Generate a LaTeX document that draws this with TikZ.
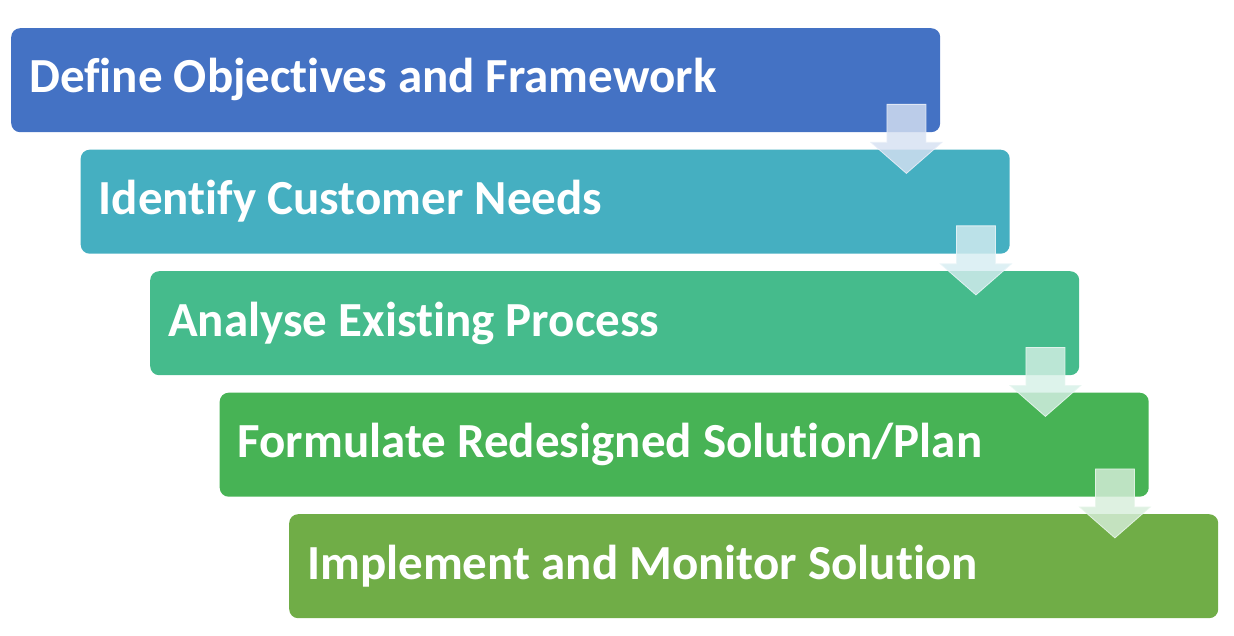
\documentclass[tikz,border=0pt]{standalone}
\usepackage{fontspec}
\setmainfont{Carlito}[Ligatures={NoCommon}]
\usetikzlibrary{calc}
\definecolor{cA}{HTML}{4472C4}
\definecolor{cB}{HTML}{45AFC1}
\definecolor{cC}{HTML}{45BB8C}
\definecolor{cD}{HTML}{47B355}
\definecolor{cE}{HTML}{70AD47}
\tikzset{
  stepbox/.style={rectangle, rounded corners=9pt, fill=#1, draw=none,
    minimum width=929pt, minimum height=104pt, inner sep=0pt, anchor=north west},
  steptext/.style={anchor=base west, inner sep=0pt, text=white,
    font=\fontsize{49}{59}\selectfont\bfseries},
  downarrow/.style={fill=#1!22!white, fill opacity=0.82,
    draw=#1!12!white, draw opacity=0.9, line width=0.8pt, line join=miter}
}
% block arrow hanging from the lower right corner of a step box
\newcommand\flowarrow[2]{%
  \draw[downarrow=#2] ($(#1.south east)+(-53.5,-28)$) -- ++(39,0) -- ++(0,38)
    -- ++(16,0) -- ++(-35.5,31) -- ++(-35.5,-31) -- ++(16,0) -- cycle;}
\begin{document}
\begin{tikzpicture}[x=1pt,y=-1pt]
\useasboundingbox (0,0) rectangle (1234,636);
\node[stepbox=cA] (b1) at (11,28) {};
\node[stepbox=cB] (b2) at (80.5,149.5) {};
\node[stepbox=cC] (b3) at (150,271) {};
\node[stepbox=cD] (b4) at (219.5,392.5) {};
\node[stepbox=cE] (b5) at (289,514) {};
\node[steptext] (t1) at ($(b1.north west)+(18,65)$) {Define Objectives and Framework};
\node[steptext] (t2) at ($(b2.north west)+(18,65)$) {Identify Customer Needs};
\node[steptext] (t3) at ($(b3.north west)+(18,65)$) {Analyse Existing Process};
\node[steptext] (t4) at ($(b4.north west)+(18,65)$) {Formulate Redesigned Solution/Plan};
\node[steptext] (t5) at ($(b5.north west)+(18,65)$) {Implement and Monitor Solution};
\flowarrow{b1}{cA}
\flowarrow{b2}{cB}
\flowarrow{b3}{cC}
\flowarrow{b4}{cD}
\end{tikzpicture}
\end{document}
